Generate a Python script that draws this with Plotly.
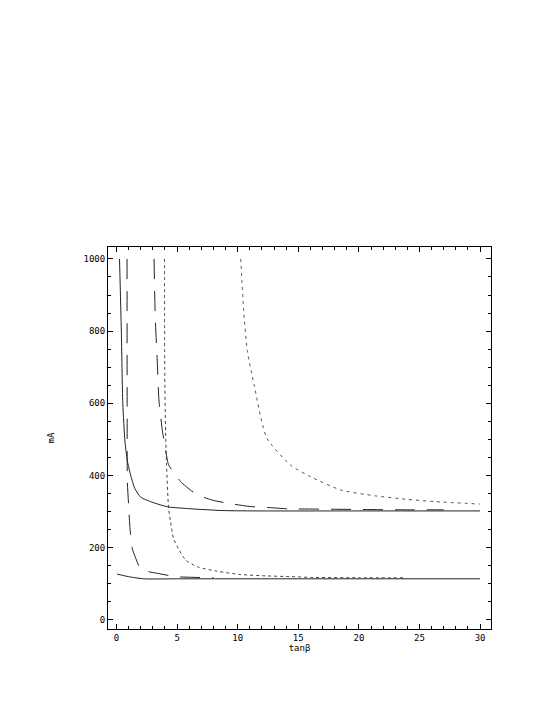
import plotly.graph_objects as go

# upper solid curve
upper_x = [0.25, 0.4, 0.52, 0.7, 0.9, 1.1, 1.5, 2.0, 2.8, 3.5, 4.3, 6.1, 8.8, 12, 20, 30]
upper_y = [1000, 800, 600, 494, 440, 410, 365, 340, 328, 320, 313, 308, 303, 302, 302, 302]

# lower solid curve
lower_x = [0.05, 1.0, 2.25, 5, 15, 30]
lower_y = [127, 120, 114, 114, 114, 114]

# long dash, near tanb ~ 0.9
dashA_x = [0.87, 0.88, 0.9, 1.0, 1.1, 1.3, 1.6, 1.9, 2.5, 3.4, 4.9, 6.4, 8.0]
dashA_y = [1000, 600, 380, 320, 260, 198, 170, 147, 135, 129, 120, 118, 117]

# long dash, near tanb ~ 3.1
dashB_x = [3.1, 3.2, 3.36, 3.5, 3.77, 4.05, 4.3, 5.3, 6.6, 7.9, 9.6, 11.1, 12.7, 14.1, 17, 20, 24, 27]
dashB_y = [1000, 837, 720, 610, 528, 472, 430, 383, 348, 332, 321, 314, 311, 308, 307, 306, 305, 305]

# short dash, near tanb ~ 4
dashC_x = [3.96, 3.98, 4.05, 4.13, 4.3, 4.46, 4.7, 5.1, 5.7, 6.7, 8.3, 10.2, 12.4, 14.4, 16, 20, 23.7]
dashC_y = [1000, 700, 520, 430, 309, 272, 226, 198, 166, 147, 135, 126, 122, 120, 118, 117, 117]

# dotted grey, near tanb ~ 10
dotD_x = [10.25, 10.5, 10.8, 11.35, 12.4, 14.4, 16, 18.5, 21.3, 24, 26.2, 30]
dotD_y = [1000, 855, 744, 652, 504, 428, 397, 360, 344, 334, 328, 321]

fig = go.Figure()


def curve(x, y, color, dash="solid"):
    return go.Scatter(
        x=x, y=y, mode="lines",
        line=dict(color=color, width=1, dash=dash, shape="spline", smoothing=0.6),
    )


fig.add_trace(curve(upper_x, upper_y, "#222222"))
fig.add_trace(curve(lower_x, lower_y, "#222222"))
fig.add_trace(curve(dashA_x, dashA_y, "#222222", "20px,12px"))
fig.add_trace(curve(dashB_x, dashB_y, "#222222", "20px,12px"))
fig.add_trace(curve(dashC_x, dashC_y, "#444444", "3px,3px"))
fig.add_trace(curve(dotD_x, dotD_y, "#555555", "3px,4px"))

axis_common = dict(
    showgrid=False,
    zeroline=False,
    showline=True,
    linecolor="black",
    linewidth=1,
    mirror="allticks",
    ticks="inside",
    ticklen=5,
    tickcolor="black",
    tickfont=dict(family="DejaVu Sans Mono", size=9, color="black"),
)

fig.update_xaxes(
    range=[-0.7, 30.9],
    tickvals=[0, 5, 10, 15, 20, 25, 30],
    minor=dict(dtick=1, ticks="inside", ticklen=3, tickcolor="black"),
    title=dict(text="tan\u03b2", font=dict(family="DejaVu Sans Mono", size=9, color="black"), standoff=1),
    **axis_common,
)
fig.update_yaxes(
    range=[-25, 1033],
    tickvals=[0, 200, 400, 600, 800, 1000],
    minor=dict(dtick=50, ticks="inside", ticklen=3, tickcolor="black"),
    title=dict(text="mA", font=dict(family="DejaVu Sans Mono", size=9, color="black"), standoff=27),
    **axis_common,
)

fig.update_layout(
    width=545,
    height=705,
    showlegend=False,
    plot_bgcolor="white",
    paper_bgcolor="white",
    margin=dict(l=100, r=62, t=239, b=84),
)

fig.write_html("out.html")
